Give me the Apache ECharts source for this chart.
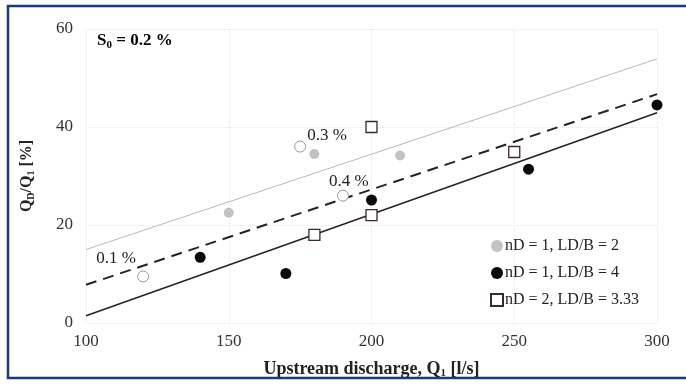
<!DOCTYPE html>
<html><head><meta charset="utf-8">
<script src="https://cdn.jsdelivr.net/npm/echarts@6/dist/echarts.min.js"></script>
<style>html,body{margin:0;padding:0;background:#fff}#c{width:686px;height:385px}</style>
</head><body><div id="c"></div>
<script>
// Data
const xTicks = [100, 150, 200, 250, 300];
const yTicks = [0, 20, 40, 60];
const seriesGrayName = 'nD = 1, LD/B = 2';
const seriesBlackName = 'nD = 1, LD/B = 4';
const seriesSquareName = 'nD = 2, LD/B = 3.33';
const grayPoints = [[150, 22.5], [180, 34.5], [210, 34.2]];
const blackPoints = [[140, 13.4], [170, 10.1], [200, 25.1], [255, 31.4], [300, 44.5]];
const squarePoints = [[180, 18], [200, 40], [200, 22], [250, 34.9]];
const slopePoints = [[120, 9.5], [175, 36], [190, 26]];
const slopeLabels = ['0.1 %', '0.3 %', '0.4 %'];
const lineGray = [[100, 15.0], [300, 53.9]];
const lineDashed = [[100, 7.8], [300, 46.7]];
const lineSolid = [[100, 1.5], [300, 42.9]];

const font = 'Liberation Serif';
const labelOffsets = [[-27, 2], [27, 8], [6, 5]];

const chart = echarts.init(document.getElementById('c'));
chart.setOption({
  animation: false,
  backgroundColor: '#fff',
  textStyle: { fontFamily: font, color: '#222' },
  grid: { left: 86, right: 29, top: 29, bottom: 62 },
  graphic: [
    { type: 'rect', shape: { x: 8, y: 6, width: 690, height: 372 }, style: { fill: 'none', stroke: '#1f3a70', lineWidth: 2.5 }, z: 100 },
    { type: 'text', left: 97, top: 32, style: { text: '{b|S}{s|0}{b| = 0.2 %}', rich: {
        b: { fontFamily: font, fontWeight: 'bold', fontSize: 17, color: '#222' },
        s: { fontFamily: font, fontWeight: 'bold', fontSize: 11, color: '#222', padding: [9, 0, 0, 0] } } } }
  ],
  xAxis: {
    type: 'value', min: 100, max: 300, interval: 50,
    axisLine: { show: false }, axisTick: { show: false },
    axisLabel: { fontFamily: font, fontSize: 17, color: '#333', margin: 10 },
    splitLine: { show: true, lineStyle: { color: '#e6e6e6', type: 'dotted', width: 1 } },
    name: '{b|Upstream discharge, Q}{s|1}{b| [l/s]}',
    nameLocation: 'middle', nameGap: 36,
    nameTextStyle: { rich: {
      b: { fontFamily: font, fontWeight: 'bold', fontSize: 18, color: '#222' },
      s: { fontFamily: font, fontWeight: 'bold', fontSize: 11, color: '#222', padding: [9, 0, 0, 0] } } }
  },
  yAxis: {
    type: 'value', min: 0, max: 60, interval: 20,
    axisLine: { show: false }, axisTick: { show: false },
    axisLabel: { fontFamily: font, fontSize: 17, color: '#333', margin: 13 },
    splitLine: { show: true, lineStyle: { color: '#e6e6e6', type: 'dotted', width: 1 } },
    name: '{b|Q}{s|D}{b|/Q}{s|1}{b| [%]}',
    nameLocation: 'middle', nameGap: 50, nameRotate: 90,
    nameTextStyle: { rich: {
      b: { fontFamily: font, fontWeight: 'bold', fontSize: 16, color: '#222' },
      s: { fontFamily: font, fontWeight: 'bold', fontSize: 10, color: '#222', padding: [8, 0, 0, 0] } } }
  },
  legend: {
    data: [seriesGrayName, seriesBlackName, seriesSquareName],
    orient: 'vertical', left: 485, top: 233, itemGap: 11,
    itemWidth: 12, itemHeight: 12, selectedMode: false,
    textStyle: { fontFamily: font, fontSize: 16, color: '#222', padding: [0, 0, 0, -3] }
  },
  series: [
    { type: 'line', data: lineGray, symbol: 'none', lineStyle: { color: '#b8b8b8', width: 1 }, z: 1 },
    { type: 'line', data: lineDashed, symbol: 'none', lineStyle: { color: '#2a2222', width: 2, type: [11, 7] }, z: 1 },
    { type: 'line', data: lineSolid, symbol: 'none', lineStyle: { color: '#2a2222', width: 1.6 }, z: 1 },
    { name: seriesGrayName, type: 'scatter', data: grayPoints, symbol: 'circle', symbolSize: 10,
      itemStyle: { color: '#c2c2c2', opacity: 1 }, z: 3 },
    { name: seriesBlackName, type: 'scatter', data: blackPoints, symbol: 'circle', symbolSize: 11,
      itemStyle: { color: '#0a0a0a', opacity: 1 }, z: 3 },
    { name: seriesSquareName, type: 'scatter', data: squarePoints, symbol: 'rect', symbolSize: 11,
      itemStyle: { color: '#fff', borderColor: '#3a2a2a', borderWidth: 1.3, opacity: 1 }, z: 3 },
    { type: 'scatter', data: slopePoints.map((p, i) => ({
        value: p,
        label: { show: true, formatter: slopeLabels[i], offset: labelOffsets[i], position: 'top',
          fontFamily: font, fontSize: 17, color: '#222', opacity: 1 } })),
      symbol: 'circle', symbolSize: 11,
      itemStyle: { color: '#fff', borderColor: '#999', borderWidth: 1, opacity: 1 }, z: 4 }
  ]
});
</script></body></html>
